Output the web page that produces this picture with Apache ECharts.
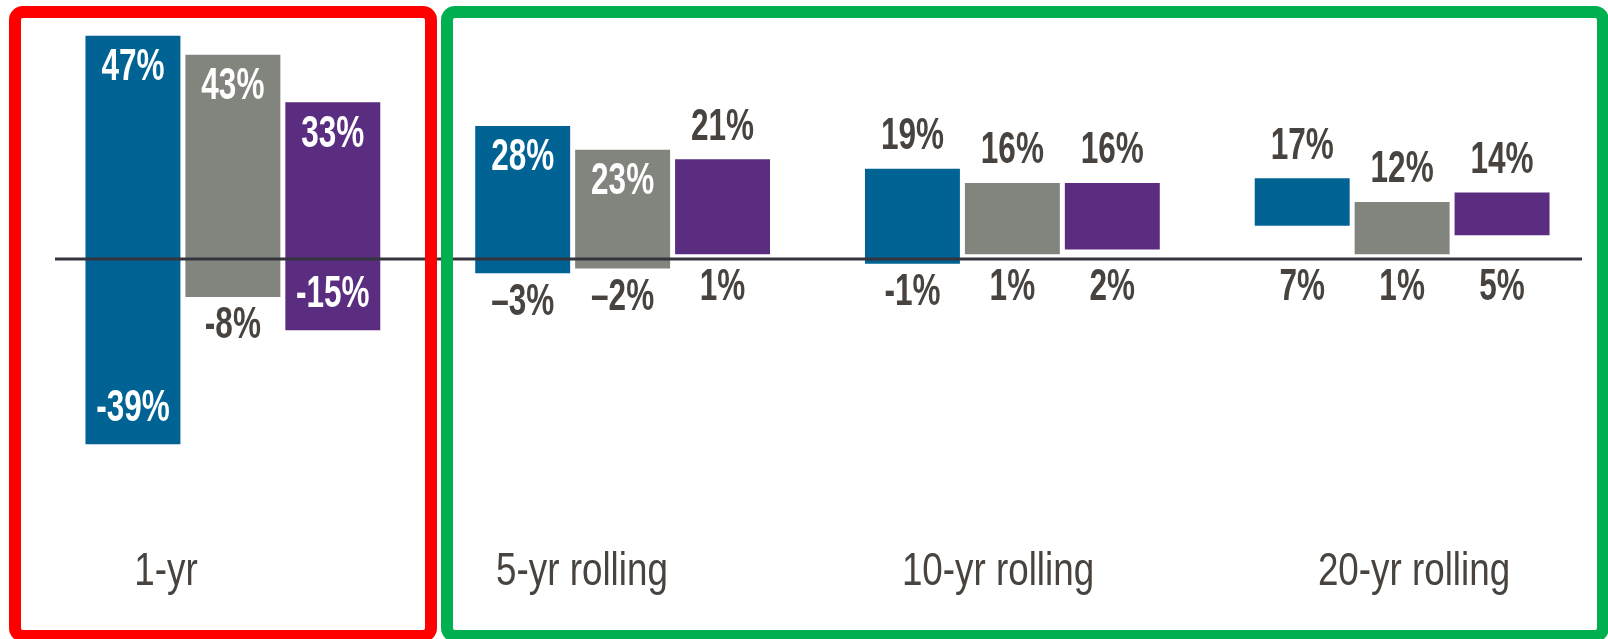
<!DOCTYPE html>
<html>
<head>
<meta charset="utf-8">
<script src="https://cdn.jsdelivr.net/npm/echarts@6/dist/echarts.min.js"></script>
<style>
  html, body { margin: 0; padding: 0; background: #ffffff; }
  #chart { width: 1608px; height: 639px; }
</style>
</head>
<body>
<div id="chart"></div>
<script>
// Holding periods
const categories = ['1-yr', '5-yr rolling', '10-yr rolling', '20-yr rolling'];

// Range of annualised returns (%) per holding period
const stocksHigh = [47, 28, 19, 17];
const stocksLow = [-39, -3, -1, 7];
const bondsHigh = [43, 23, 16, 12];
const bondsLow = [-8, -2, 1, 1];
const blendHigh = [33, 21, 16, 14];
const blendLow = [-15, 1, 2, 5];

// Minus glyph used in each period's labels
const minusSign = ['-', '\u2013', '-', '-'];

// Which range labels sit inside the bar (per series, per period)
const highInside = [
  [true, true, false, false],
  [true, true, false, false],
  [true, false, false, false]
];
const lowInside = [
  [true, false, false, false],
  [false, false, false, false],
  [true, false, false, false]
];

const colors = ['#006394', '#82847e', '#5a2d81'];
const darkText = '#48433e';
const valueFont = 'bold 45px "Liberation Sans", Arial, sans-serif';
const categoryFont = '46px "Liberation Sans", Arial, sans-serif';

function fmt(v, ci) {
  return (v < 0 ? minusSign[ci] + Math.abs(v) : String(v)) + '%';
}

function valueText(x, y, text, fill) {
  return {
    type: 'text', x: x, y: y, scaleX: 0.7,
    style: { text: text, font: valueFont, fill: fill, align: 'center', verticalAlign: 'middle' }
  };
}

function rangeRenderer(si) {
  return function (params, api) {
    const ci = api.value(0);
    const lo = api.value(1);
    const hi = api.value(2);
    const band = api.size([1, 0])[0];
    const w = band * 0.2436;
    const cx = api.coord([ci, 0])[0] + (si - 1) * band * 0.2564;
    const yHi = api.coord([ci, hi])[1];
    const yLo = api.coord([ci, lo])[1];
    const yZero = api.coord([ci, 0])[1];

    const hiIn = highInside[si][ci];
    const loIn = lowInside[si][ci];
    return {
      type: 'group',
      children: [
        {
          type: 'rect',
          shape: { x: cx - w / 2, y: yHi, width: w, height: yLo - yHi },
          style: { fill: api.visual('color') }
        },
        valueText(cx, hiIn ? yHi + 32 : yHi - 32, fmt(hi, ci), hiIn ? '#ffffff' : darkText),
        valueText(cx, loIn ? yLo - 36 : Math.max(yLo, yZero) + 29, fmt(lo, ci), loIn ? '#ffffff' : darkText)
      ]
    };
  };
}

// Condensed period names under each group
function categoryRenderer(params, api) {
  const x = api.coord([api.value(0), 0])[0];
  const cs = params.coordSys;
  return {
    type: 'text', x: x, y: cs.y + cs.height + 32, scaleX: 0.8,
    style: {
      text: categories[api.value(0)], font: categoryFont, fill: darkText,
      align: 'center', verticalAlign: 'middle'
    }
  };
}

function rangeData(lows, highs) {
  return categories.map((c, i) => [i, lows[i], highs[i]]);
}

const seriesDefs = [
  { name: 'Stocks', low: stocksLow, high: stocksHigh },
  { name: 'Bonds', low: bondsLow, high: bondsHigh },
  { name: 'Blend', low: blendLow, high: blendHigh }
];

const chart = echarts.init(document.getElementById('chart'), null, { renderer: 'canvas' });

chart.setOption({
  animation: false,
  backgroundColor: '#ffffff',
  grid: [
    { left: 38, right: 11, top: 21.5, height: 475 },
    { left: 166, right: 194, top: 0, height: 540 }
  ],
  xAxis: [
    { type: 'category', gridIndex: 0, data: categories, show: false },
    { type: 'category', gridIndex: 1, data: categories, boundaryGap: false, show: false }
  ],
  yAxis: [
    { type: 'value', gridIndex: 0, min: -50, max: 50, show: false },
    { type: 'value', gridIndex: 1, min: 0, max: 1, show: false }
  ],
  series: seriesDefs.map((s, si) => ({
    type: 'custom',
    name: s.name,
    xAxisIndex: 0,
    yAxisIndex: 0,
    itemStyle: { color: colors[si] },
    encode: { x: 0, y: [1, 2] },
    data: rangeData(s.low, s.high),
    renderItem: rangeRenderer(si),
    z: 2
  })).concat([{
    type: 'custom',
    name: 'Periods',
    xAxisIndex: 1,
    yAxisIndex: 1,
    encode: { x: 0, y: 1 },
    data: categories.map((c, i) => [i, 0]),
    renderItem: categoryRenderer,
    silent: true
  }])
});

// Zero baseline and the two framing boxes
const zeroY = chart.convertToPixel({ yAxisIndex: 0 }, 0);
chart.setOption({
  graphic: [
    {
      type: 'line', z: 10,
      shape: { x1: 55, y1: zeroY, x2: 1582, y2: zeroY },
      style: { stroke: '#34343f', lineWidth: 3 }
    },
    {
      type: 'rect', z: 20,
      shape: { x: 15, y: 12, width: 416, height: 624, r: 8 },
      style: { fill: 'none', stroke: '#ff0000', lineWidth: 12 }
    },
    {
      type: 'rect', z: 20,
      shape: { x: 447, y: 12, width: 1156, height: 624, r: 8 },
      style: { fill: 'none', stroke: '#00b050', lineWidth: 12 }
    }
  ]
});
</script>
</body>
</html>
